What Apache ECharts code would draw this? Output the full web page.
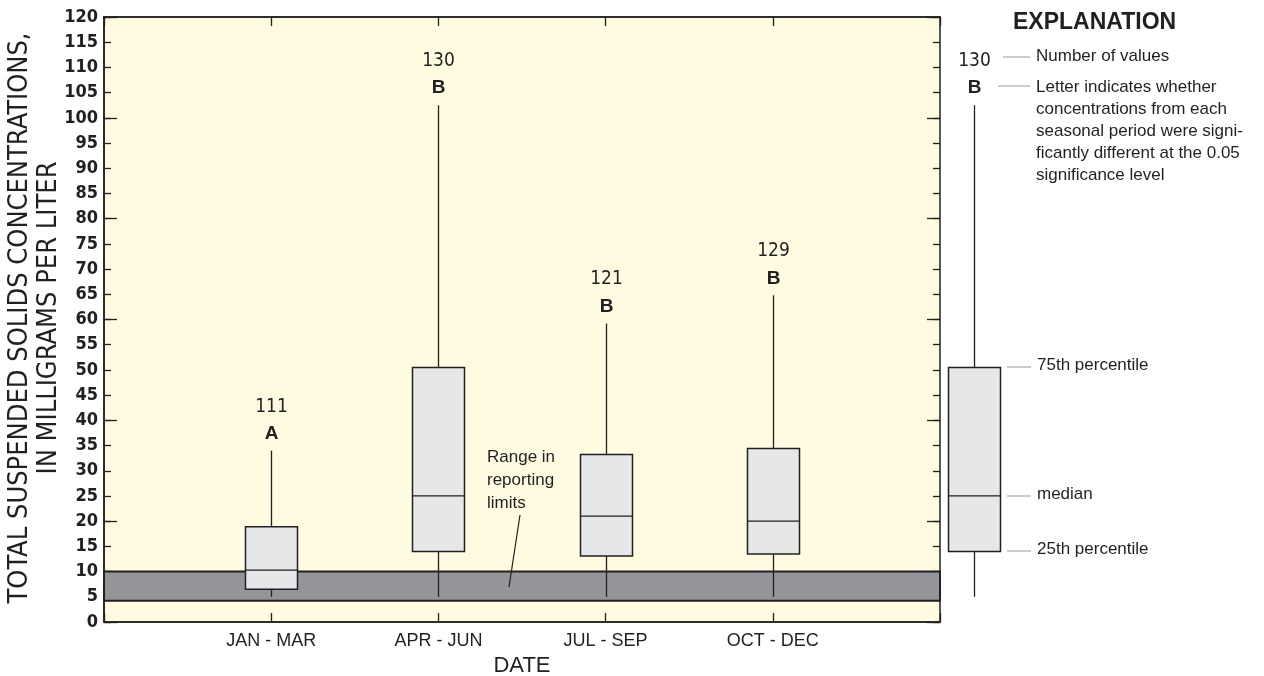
<!DOCTYPE html>
<html>
<head>
<meta charset="utf-8">
<script src="https://cdn.jsdelivr.net/npm/echarts@6.0.0/dist/echarts.min.js"></script>
<style>
  html, body { margin: 0; padding: 0; background: #fff; }
  #chart { width: 1264px; height: 676px; }
</style>
</head>
<body>
<div id="chart"></div>
<script>
// seasonal box plots of total suspended solids (mg/L)
var seasons = ['JAN - MAR', 'APR - JUN', 'JUL - SEP', 'OCT - DEC'];
var seasonPos = [1, 2, 3, 4];
var whiskerLow = [5, 5, 5, 5];
var q1 = [6.5, 14, 13.1, 13.5];
var median = [10.3, 25, 21, 20];
var q3 = [18.9, 50.5, 33.2, 34.4];
var whiskerHigh = [34, 102.5, 59.2, 64.8];
var counts = [111, 130, 121, 129];
var groups = ['A', 'B', 'B', 'B'];
var reportingLimits = [4.2, 10];

// explanation sample box
var sampleBox = [5, 14, 25, 50.5, 102.5];
var sampleCount = [130];
var sampleGroup = ['B'];

var INK = '#231f20';
var BOX_FILL = '#e6e7e8';
var BAND = '#939598';
var LEADER = '#a7a9ac';
var SANS = '"Liberation Sans", Arial, sans-serif';
var NARROW = '"Liberation Sans Narrow", "DejaVu Sans Condensed", sans-serif';

var chart = echarts.init(document.getElementById('chart'));

function boxRenderer(countList, groupList) {
  return function (params, api) {
    var i = params.dataIndex;
    var x = api.value(0);
    var lo = api.coord([x, api.value(1)]);
    var b1 = api.coord([x, api.value(2)]);
    var md = api.coord([x, api.value(3)]);
    var b3 = api.coord([x, api.value(4)]);
    var hi = api.coord([x, api.value(5)]);
    var cx = Math.round(lo[0]) + 0.5;
    var half = 26;
    var ln = { stroke: INK, lineWidth: 1.3 };
    return {
      type: 'group',
      children: [
        { type: 'line', shape: { x1: cx, y1: hi[1], x2: cx, y2: b3[1] }, style: ln },
        { type: 'line', shape: { x1: cx, y1: b1[1], x2: cx, y2: lo[1] }, style: ln },
        { type: 'rect', shape: { x: cx - half, y: b3[1], width: half * 2, height: b1[1] - b3[1] },
          style: { fill: BOX_FILL, stroke: INK, lineWidth: 1.5 } },
        { type: 'line', shape: { x1: cx - half, y1: md[1], x2: cx + half, y2: md[1] }, style: ln },
        { type: 'text', x: cx, y: hi[1] - 17,
          style: { text: groupList[i], align: 'center', verticalAlign: 'middle',
                   fontFamily: SANS, fontWeight: 'bold', fontSize: 19, fill: INK } },
        { type: 'text', x: cx, y: hi[1] - 44,
          style: { text: String(countList[i]), align: 'center', verticalAlign: 'middle',
                   fontFamily: NARROW, fontSize: 19, fill: INK } }
      ]
    };
  };
}

var boxData = seasonPos.map(function (p, i) {
  return [p, whiskerLow[i], q1[i], median[i], q3[i], whiskerHigh[i]];
});

function yTicks(pos, interval, len, labels) {
  return {
    type: 'value', gridIndex: 0, position: pos, min: 0, max: 120, interval: interval,
    axisLine: { show: labels, onZero: false, lineStyle: { color: INK, width: 1.5 } },
    axisTick: { show: true, inside: true, length: len, lineStyle: { color: INK, width: 1.3 } },
    axisLabel: labels ? { show: true, color: INK, fontFamily: NARROW, fontWeight: 'bold', fontSize: 18, margin: 6 } : { show: false },
    splitLine: { show: false }
  };
}

function xTicks(pos, labels) {
  return {
    type: 'value', gridIndex: 0, position: pos, min: 0, max: 5, interval: 1,
    axisLine: { show: true, onZero: false, lineStyle: { color: INK, width: 1.5 } },
    axisTick: { show: true, inside: true, length: 9, lineStyle: { color: INK, width: 1.3 } },
    axisLabel: labels ? {
      show: true, color: INK, fontFamily: SANS, fontSize: 18, margin: 10,
      formatter: function (v) { return seasons[v - 1] || ''; }
    } : { show: false },
    splitLine: { show: false },
    name: labels ? 'DATE' : '', nameLocation: 'middle', nameGap: 30,
    nameTextStyle: { color: INK, fontFamily: SANS, fontSize: 22 }
  };
}

var option = {
  backgroundColor: '#ffffff',
  animation: false,
  grid: [
    { left: 104, right: 324, top: 17, bottom: 54, show: true, backgroundColor: '#fffbe1',
      borderColor: INK, borderWidth: 1.5, outerBoundsMode: 'none', containLabel: false },
    { left: 940, width: 68, top: 17, bottom: 54, show: false, outerBoundsMode: 'none', containLabel: false }
  ],
  xAxis: [
    xTicks('bottom', true),
    xTicks('top', false),
    { type: 'value', gridIndex: 1, min: 0, max: 1, show: false }
  ],
  yAxis: [
    yTicks('left', 5, 7, true),
    yTicks('left', 20, 13, false),
    yTicks('right', 5, 7, false),
    yTicks('right', 20, 13, false),
    { type: 'value', gridIndex: 1, min: 0, max: 120, show: false }
  ],
  series: [
    {
      // range in reporting limits
      type: 'custom', xAxisIndex: 0, yAxisIndex: 0, z: 1, silent: true,
      data: [[reportingLimits[0], reportingLimits[1]]],
      renderItem: function (params, api) {
        var a = api.coord([0, api.value(1)]);
        var b = api.coord([5, api.value(0)]);
        return { type: 'rect', shape: { x: a[0], y: a[1], width: b[0] - a[0], height: b[1] - a[1] },
                 style: { fill: BAND, stroke: INK, lineWidth: 2 } };
      }
    },
    {
      type: 'custom', xAxisIndex: 0, yAxisIndex: 0, z: 3, silent: true,
      encode: { x: 0, y: [1, 2, 3, 4, 5] },
      data: boxData,
      renderItem: boxRenderer(counts, groups)
    },
    {
      type: 'custom', xAxisIndex: 2, yAxisIndex: 4, z: 3, silent: true,
      encode: { x: 0, y: [1, 2, 3, 4, 5] },
      data: [[0.5].concat(sampleBox)],
      renderItem: boxRenderer(sampleCount, sampleGroup)
    }
  ],
  graphic: [
    // y axis title
    { type: 'text', x: 34, y: 318, rotation: Math.PI / 2,
      style: { text: 'TOTAL SUSPENDED SOLIDS CONCENTRATIONS,\nIN MILLIGRAMS PER LITER', align: 'center', verticalAlign: 'middle',
               fontFamily: NARROW, fontSize: 27, lineHeight: 29, fill: INK } },

    { type: 'text', left: 487, top: 446, z: 10,
      style: { text: 'Range in\nreporting\nlimits', fontFamily: SANS, fontSize: 17, lineHeight: 23, fill: INK } },
    { type: 'line', z: 10, shape: { x1: 520, y1: 515, x2: 509, y2: 587 }, style: { stroke: INK, lineWidth: 1.2 } },

    { type: 'text', left: 1013, top: 11,
      style: { text: 'EXPLANATION', fontFamily: SANS, fontWeight: 'bold', fontSize: 23, fill: INK } },
    { type: 'line', shape: { x1: 1003, y1: 57, x2: 1030, y2: 57 }, style: { stroke: LEADER, lineWidth: 1.2 } },
    { type: 'line', shape: { x1: 998, y1: 86, x2: 1030, y2: 86 }, style: { stroke: LEADER, lineWidth: 1.2 } },
    { type: 'text', left: 1036, top: 48,
      style: { text: 'Number of values', fontFamily: SANS, fontSize: 17, fill: INK } },
    { type: 'text', left: 1036, top: 76,
      style: { text: 'Letter indicates whether\nconcentrations from each\nseasonal period were signi-\nficantly different at the 0.05\nsignificance level',
               fontFamily: SANS, fontSize: 17, lineHeight: 22, fill: INK } },
    { type: 'line', shape: { x1: 1007, y1: 367, x2: 1031, y2: 367 }, style: { stroke: LEADER, lineWidth: 1.2 } },
    { type: 'line', shape: { x1: 1007, y1: 496, x2: 1031, y2: 496 }, style: { stroke: LEADER, lineWidth: 1.2 } },
    { type: 'line', shape: { x1: 1007, y1: 551, x2: 1031, y2: 551 }, style: { stroke: LEADER, lineWidth: 1.2 } },
    { type: 'text', left: 1037, top: 357, style: { text: '75th percentile', fontFamily: SANS, fontSize: 17, fill: INK } },
    { type: 'text', left: 1037, top: 486, style: { text: 'median', fontFamily: SANS, fontSize: 17, fill: INK } },
    { type: 'text', left: 1037, top: 541, style: { text: '25th percentile', fontFamily: SANS, fontSize: 17, fill: INK } }
  ]
};

chart.setOption(option);
</script>
</body>
</html>
